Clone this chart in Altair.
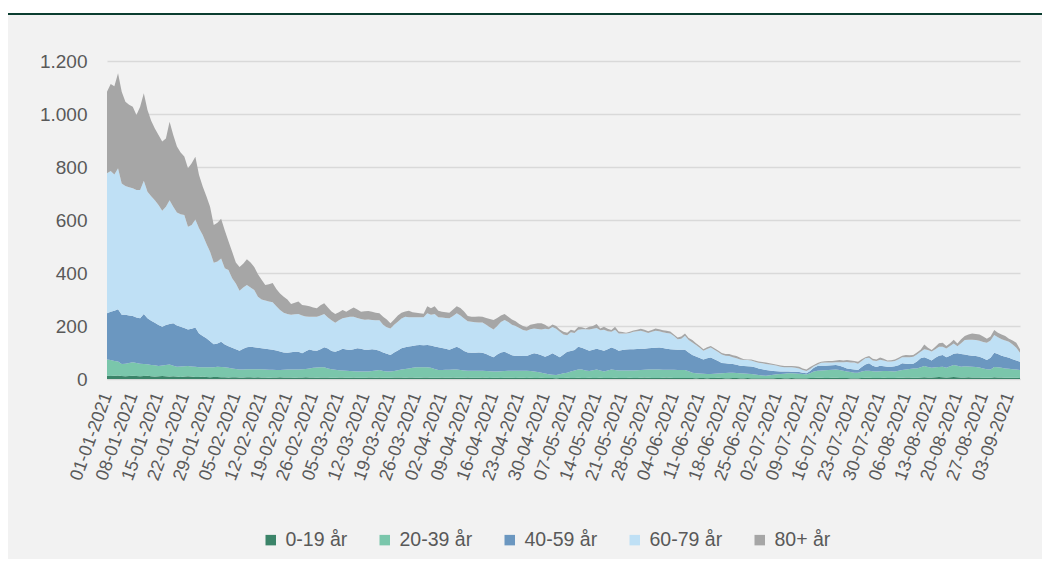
import altair as alt
import pandas as pd

groups = ["0-19 år", "20-39 år", "40-59 år", "60-79 år", "80+ år"]
colors = ["#3b8469", "#7ac6ab", "#6b97c0", "#bfe0f5", "#a6a6a6"]

dates = [d.strftime("%Y-%m-%d") for d in pd.date_range("2021-01-01", periods=249, freq="D")]
tick_dates = [d for d in pd.date_range("2021-01-01", "2021-09-03", freq="7D")]
y_ticks = [0, 200, 400, 600, 800, 1000, 1200]

age_0_19 = [
    12, 11, 12, 13, 11, 10, 11, 12, 11, 10,
    11, 12, 10, 9, 10, 11, 10, 9, 10, 9,
    8, 9, 10, 9, 8, 8, 9, 8, 7, 8,
    8, 7, 7, 6, 7, 7, 6, 6, 7, 7,
    6, 7, 6, 6, 5, 6, 6, 7, 6, 6,
    6, 5, 6, 6, 7, 6, 6, 5, 6, 6,
    6, 5, 5, 6, 6, 5, 5, 6, 5, 5,
    5, 6, 6, 5, 6, 5, 5, 5, 6, 6,
    6, 5, 6, 6, 5, 5, 6, 6, 5, 5,
    5, 6, 5, 5, 6, 5, 5, 5, 6, 5,
    5, 5, 6, 5, 4, 5, 5, 4, 5, 5,
    5, 4, 5, 5, 4, 5, 4, 4, 5, 4,
    4, 4, 3, 4, 4, 5, 4, 4, 5, 4,
    4, 5, 4, 4, 5, 4, 4, 4, 5, 4,
    4, 4, 5, 4, 4, 5, 6, 5, 4, 4,
    4, 5, 6, 5, 4, 4, 4, 4, 4, 4,
    3, 4, 4, 3, 4, 4, 5, 4, 3, 3,
    4, 4, 3, 3, 4, 3, 3, 3, 3, 3,
    3, 3, 4, 4, 3, 3, 4, 3, 3, 3,
    3, 4, 4, 5, 5, 4, 4, 5, 5, 4,
    4, 4, 3, 3, 3, 4, 5, 5, 4, 4,
    4, 5, 4, 4, 4, 5, 5, 6, 6, 5,
    5, 6, 7, 6, 6, 7, 8, 7, 6, 7,
    8, 7, 6, 6, 7, 6, 6, 6, 5, 5,
    5, 7, 6, 6, 5, 5, 5, 5, 4,
]

age_20_39 = [
    62, 61, 56, 53, 46, 48, 49, 51, 49, 48,
    46, 44, 43, 43, 39, 40, 43, 46, 40, 37,
    39, 39, 39, 38, 38, 36, 35, 36, 37, 36,
    38, 38, 37, 36, 33, 31, 30, 30, 30, 30,
    31, 30, 31, 30, 30, 29, 28, 27, 29, 30,
    30, 31, 30, 31, 31, 34, 36, 38, 38, 38,
    34, 32, 30, 27, 26, 26, 25, 23, 23, 23,
    23, 22, 24, 27, 28, 25, 23, 23, 24, 27,
    30, 33, 34, 36, 39, 39, 38, 38, 37, 33,
    29, 28, 30, 30, 30, 31, 29, 27, 25, 26,
    26, 26, 25, 25, 25, 23, 23, 25, 25, 26,
    26, 27, 26, 26, 27, 25, 24, 22, 19, 17,
    14, 12, 12, 14, 18, 19, 24, 28, 31, 32,
    28, 25, 29, 32, 27, 24, 28, 32, 29, 28,
    28, 28, 27, 28, 29, 29, 29, 31, 32, 32,
    32, 30, 29, 30, 31, 30, 30, 30, 25, 20,
    19, 17, 16, 16, 15, 16, 16, 18, 20, 21,
    20, 19, 19, 18, 16, 16, 14, 12, 10, 9,
    11, 13, 14, 15, 17, 19, 18, 18, 17, 16,
    14, 18, 24, 26, 27, 29, 30, 30, 31, 30,
    27, 24, 23, 21, 21, 24, 26, 26, 25, 24,
    25, 25, 26, 25, 24, 26, 29, 30, 32, 35,
    35, 38, 42, 39, 36, 37, 37, 39, 36, 41,
    45, 43, 40, 42, 40, 40, 39, 37, 35, 32,
    31, 38, 38, 36, 35, 34, 32, 31, 30,
]

age_40_59 = [
    174, 182, 190, 197, 185, 184, 180, 175, 172, 171,
    188, 173, 167, 160, 155, 146, 151, 153, 160, 156,
    150, 144, 138, 143, 148, 128, 118, 110, 98, 87,
    88, 96, 86, 82, 78, 74, 71, 78, 83, 85,
    83, 81, 79, 78, 77, 75, 74, 70, 65, 63,
    65, 67, 67, 60, 67, 71, 66, 64, 68, 76,
    75, 69, 68, 75, 82, 80, 79, 83, 88, 86,
    82, 82, 82, 78, 73, 70, 67, 63, 70, 75,
    80, 82, 83, 83, 83, 84, 83, 84, 84, 85,
    86, 83, 79, 75, 80, 86, 81, 74, 69, 68,
    68, 69, 68, 64, 59, 54, 64, 71, 73, 65,
    59, 56, 57, 56, 56, 62, 69, 68, 66, 63,
    72, 81, 75, 64, 70, 79, 78, 77, 86, 82,
    80, 77, 77, 78, 78, 79, 80, 83, 80, 75,
    77, 79, 80, 80, 80, 80, 79, 80, 81, 82,
    83, 82, 79, 77, 76, 76, 76, 76, 71, 67,
    63, 58, 54, 59, 62, 55, 47, 38, 36, 34,
    33, 31, 28, 28, 28, 28, 27, 25, 24, 22,
    18, 14, 11, 9, 8, 6, 5, 6, 6, 5,
    5, 8, 14, 18, 18, 17, 17, 17, 17, 16,
    14, 12, 12, 12, 10, 17, 24, 28, 21, 17,
    21, 18, 16, 17, 20, 21, 25, 22, 19, 18,
    26, 34, 33, 31, 28, 36, 43, 45, 40, 40,
    42, 47, 48, 44, 43, 42, 42, 41, 38, 35,
    44, 54, 50, 46, 44, 41, 38, 34, 31,
]

age_60_79 = [
    528, 531, 514, 532, 496, 486, 484, 482, 481, 484,
    503, 478, 470, 463, 453, 438, 446, 467, 440, 426,
    425, 427, 388, 391, 408, 397, 381, 356, 338, 308,
    309, 314, 288, 287, 262, 248, 226, 231, 235, 223,
    216, 192, 184, 182, 180, 180, 167, 156, 150, 146,
    141, 141, 142, 143, 131, 124, 127, 128, 128, 125,
    117, 116, 109, 114, 115, 121, 126, 123, 114, 112,
    114, 115, 111, 112, 115, 105, 100, 100, 105, 108,
    112, 115, 110, 108, 106, 105, 106, 120, 116, 122,
    113, 115, 116, 119, 122, 126, 125, 122, 118, 117,
    115, 113, 114, 111, 107, 105, 108, 115, 120, 119,
    115, 113, 104, 98, 95, 96, 94, 95, 97, 106,
    98, 99, 100, 96, 76, 62, 70, 65, 64, 70,
    76, 80, 80, 78, 74, 79, 68, 59, 72, 65,
    63, 61, 62, 66, 67, 68, 64, 58, 61, 64,
    61, 59, 60, 60, 51, 40, 42, 53, 47, 47,
    43, 39, 33, 35, 38, 35, 34, 32, 29, 29,
    25, 24, 24, 23, 24, 23, 21, 21, 22, 23,
    23, 23, 21, 18, 16, 16, 17, 15, 14, 10,
    8, 8, 6, 6, 11, 12, 11, 10, 10, 13,
    18, 24, 24, 26, 24, 23, 23, 21, 20, 23,
    23, 22, 20, 20, 20, 23, 23, 24, 25, 26,
    26, 25, 30, 33, 34, 32, 34, 31, 33, 37,
    39, 27, 41, 55, 58, 60, 60, 60, 62, 65,
    65, 67, 64, 62, 61, 61, 55, 48, 34,
]

age_80_plus = [
    308, 328, 333, 359, 346, 318, 311, 307, 283, 314,
    330, 308, 285, 270, 264, 261, 258, 296, 271, 249,
    233, 221, 220, 233, 237, 201, 183, 180, 170, 142,
    147, 150, 142, 109, 100, 80, 90, 90, 97, 95,
    87, 85, 75, 59, 66, 72, 65, 63, 60, 55,
    41, 44, 47, 39, 41, 40, 35, 32, 38, 41,
    38, 33, 33, 30, 31, 22, 27, 35, 32, 28,
    32, 32, 31, 28, 26, 30, 30, 19, 20, 24,
    22, 20, 25, 19, 17, 15, 13, 27, 25, 30,
    25, 22, 22, 21, 24, 27, 28, 27, 20, 19,
    21, 23, 22, 25, 31, 36, 30, 25, 22, 20,
    20, 18, 16, 15, 13, 17, 17, 21, 23, 15,
    7, 10, 10, 9, 10, 10, 10, 8, 10, 7,
    3, 10, 10, 16, 7, 11, 10, 7, 11, 7,
    5, 3, 4, 5, 6, 8, 8, 6, 7, 9,
    8, 8, 8, 7, 6, 7, 8, 9, 8, 9,
    7, 7, 5, 7, 6, 6, 6, 6, 6, 7,
    8, 9, 6, 3, 2, 4, 5, 5, 5, 5,
    4, 4, 4, 5, 5, 5, 5, 6, 6, 6,
    6, 7, 5, 5, 4, 5, 6, 6, 7, 9,
    7, 8, 8, 6, 7, 7, 4, 7, 6, 6,
    8, 6, 4, 5, 6, 5, 6, 9, 8, 7,
    8, 7, 18, 9, 5, 10, 13, 15, 10, 10,
    14, 10, 15, 15, 20, 24, 23, 24, 20, 15,
    15, 19, 17, 18, 17, 11, 15, 19, 13,
]

series = [age_0_19, age_20_39, age_40_59, age_60_79, age_80_plus]

rows = []
for gi, (g, vals) in enumerate(zip(groups, series)):
    for d, v in zip(dates, vals):
        rows.append({"date": d, "group": g, "rank": gi, "value": v})
df = pd.DataFrame(rows)

FONT = "Liberation Sans"
TXT = "#595959"

def dt(ts):
    return alt.DateTime(year=ts.year, month=ts.month, date=ts.day, utc=True)

x_axis = alt.Axis(
    values=[dt(t) for t in tick_dates],
    labelExpr="utcFormat(datum.value, '%d-%m-%Y')",
    labelAngle=-70, labelAlign="right", labelBaseline="middle",
    labelPadding=14, labelFontSize=18, labelFont=FONT, labelColor=TXT,
    labelOverlap=False, labelBound=False, labelFlush=False,
    ticks=False, grid=False, domain=True, domainColor="#d9d9d9", domainWidth=1,
    title=None,
)
y_axis = alt.Axis(
    values=y_ticks,
    labelExpr="replace(format(datum.value, ','), ',', '.')",
    labelFontSize=19, labelFont=FONT, labelColor=TXT, labelPadding=20,
    ticks=False, domain=False, grid=True, gridColor="#d9d9d9", gridWidth=1.3,
    title=None,
)

area = alt.Chart(df).mark_area(interpolate="linear", opacity=1).encode(
    x=alt.X("date:T",
            scale=alt.Scale(type="utc", nice=False,
                            domain=[dt(pd.Timestamp(dates[0])), dt(pd.Timestamp(dates[-1]))]),
            axis=x_axis),
    y=alt.Y("value:Q", stack="zero",
            scale=alt.Scale(domain=[0, 1200], nice=False), axis=y_axis),
    color=alt.Color("group:N", scale=alt.Scale(domain=groups, range=colors),
                    legend=alt.Legend(
                        orient="none", legendX=154, legendY=469,
                        direction="horizontal", title=None,
                        symbolType="square", symbolSize=110, symbolStrokeWidth=0,
                        symbolOpacity=1, labelFontSize=19.5, labelFont=FONT,
                        labelColor=TXT, columnPadding=27, labelOffset=5,
                    )),
    order=alt.Order("rank:Q", sort="ascending"),
)

deco = pd.DataFrame({"k": [0]})
white_band = alt.Chart(deco).mark_rect(color="white").encode(
    x=alt.value(-99), x2=alt.value(935), y=alt.value(-53), y2=alt.value(-48))
green_line = alt.Chart(deco).mark_rect(color="#0b3d30").encode(
    x=alt.value(-99), x2=alt.value(935), y=alt.value(-48), y2=alt.value(-46))

chart = alt.layer(white_band, green_line, area).properties(
    width=913, height=318,
    autosize=alt.AutoSizeParams(type="none"),
    padding={"left": 99, "top": 53, "right": 22, "bottom": 180},
    background="#f2f2f2",
).configure_view(stroke=None)

chart.save("out.html", embed_options={"renderer": "svg", "actions": False})
